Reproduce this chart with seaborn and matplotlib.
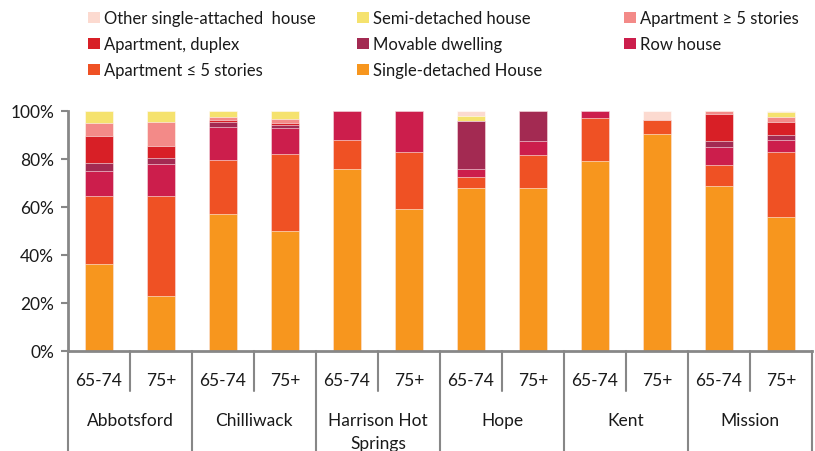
import numpy as np
import pandas as pd
import matplotlib.pyplot as plt
import seaborn as sns
from matplotlib.patches import Patch

# Data (percent of households, bottom segment first)
towns = ["Abbotsford", "Chilliwack", "Harrison Hot\nSprings", "Hope", "Kent", "Mission"]
ages = ["65-74", "75+"]

single_detached = [36.3, 22.8, 57.1, 49.9, 75.7, 59.0, 67.9, 67.9, 79.0, 90.6, 68.6, 55.7]
apt_under5 = [28.5, 41.9, 22.5, 32.2, 12.2, 23.8, 4.4, 13.6, 17.9, 5.8, 9.0, 27.1]
row_house = [10.4, 13.1, 13.6, 11.0, 12.1, 17.2, 3.3, 5.8, 3.1, 0.0, 7.6, 5.0]
movable = [3.2, 2.5, 2.4, 1.3, 0.0, 0.0, 20.0, 12.6, 0.0, 0.0, 2.5, 2.2]
duplex = [11.4, 5.0, 0.8, 0.7, 0.0, 0.0, 0.0, 0.0, 0.0, 0.0, 11.0, 5.6]
apt_over5 = [5.3, 10.3, 1.1, 1.8, 0.0, 0.0, 0.0, 0.0, 0.0, 0.0, 1.3, 1.9]
semi_detached = [5.0, 4.4, 2.5, 3.2, 0.0, 0.0, 2.4, 0.0, 0.0, 0.0, 0.0, 2.2]
other_attached = [0.0, 0.0, 0.0, 0.0, 0.0, 0.0, 1.9, 0.0, 0.0, 3.6, 0.0, 0.3]

series = {
    "Single-detached House": single_detached,
    "Apartment \u2264 5 stories": apt_under5,
    "Row house": row_house,
    "Movable dwelling": movable,
    "Apartment, duplex": duplex,
    "Apartment \u2265 5 stories": apt_over5,
    "Semi-detached house": semi_detached,
    "Other single-attached  house": other_attached,
}
colors = {
    "Single-detached House": "#F7961E",
    "Apartment \u2264 5 stories": "#EF5124",
    "Row house": "#CC1E4C",
    "Movable dwelling": "#A32A52",
    "Apartment, duplex": "#D81F26",
    "Apartment \u2265 5 stories": "#F38A88",
    "Semi-detached house": "#F5E26E",
    "Other single-attached  house": "#FCDAD0",
}

keys = [f"{t}|{a}" for t in towns for a in ages]
df = pd.DataFrame(series, index=keys)
df = df.div(df.sum(axis=1), axis=0)  # each bar fills 100%
cum = df.cumsum(axis=1).reset_index().rename(columns={"index": "key"})

sns.set_theme(style="white")
plt.rcParams["font.family"] = ["Lato", "DejaVu Sans"]
gray = "#878787"
txt = "#1a1a1a"
fs = 12.5

fig = plt.figure(figsize=(8.15, 4.52), dpi=100)
ax = fig.add_axes([68 / 815, 100 / 452, (812 - 68) / 815, 240 / 452])

# stacked bars: draw cumulative totals from the top segment down
for name in reversed(list(series.keys())):
    sns.barplot(data=cum, x="key", y=name, order=keys, color=colors[name],
                saturation=1, width=0.44, errorbar=None, ax=ax,
                edgecolor=(1, 1, 1, 0.55), linewidth=0.7)

ax.set_xlim(-0.5, len(keys) - 0.5)
ax.set_ylim(0, 1)
ax.set_yticks(np.arange(0, 1.01, 0.2))
ax.set_yticklabels([f"{int(round(v * 100))}%" for v in np.arange(0, 1.01, 0.2)],
                   fontsize=fs, color=txt)
ax.set_xticks([])
ax.set_xlabel("")
ax.set_ylabel("")
ax.tick_params(axis="y", left=True, length=5, width=1.5, color=gray, pad=5)
for s in ["top", "right"]:
    ax.spines[s].set_visible(False)
for s in ["left", "bottom"]:
    ax.spines[s].set_color(gray)
    ax.spines[s].set_linewidth(2)

# two-level category axis
tr = ax.get_xaxis_transform()
for i, k in enumerate(keys):
    ax.text(i, -0.12, k.split("|")[1], transform=tr, ha="center", va="center",
            fontsize=fs, color=txt)
for g, t in enumerate(towns):
    ax.text(2 * g + 0.5, -0.255, t, transform=tr, ha="center", va="top",
            fontsize=fs, color=txt, linespacing=1.5)
    ax.plot([2 * g + 0.5, 2 * g + 0.5], [0, -0.167], transform=tr, color=gray,
            lw=1.5, clip_on=False)
for b in range(len(towns) + 1):
    ax.plot([2 * b - 0.5, 2 * b - 0.5], [0, -0.45], transform=tr, color=gray,
            lw=1.5, clip_on=False)

# legend: three columns laid out like the original
cols = [
    ["Other single-attached  house", "Apartment, duplex", "Apartment \u2264 5 stories"],
    ["Semi-detached house", "Movable dwelling", "Single-detached House"],
    ["Apartment \u2265 5 stories", "Row house"],
]
xs = [88 / 815, 357 / 815, 624 / 815]
for x0, col in zip(xs, cols):
    handles = [Patch(facecolor=colors[n], edgecolor="none") for n in col]
    fig.legend(handles, col, loc="upper left", bbox_to_anchor=(x0, 0.975),
               frameon=False, fontsize=12, handlelength=0.7, handleheight=0.7,
               handletextpad=0.25, labelspacing=0.6, borderpad=0,
               borderaxespad=0, labelcolor=txt)

fig.savefig("out.png", dpi=100)
